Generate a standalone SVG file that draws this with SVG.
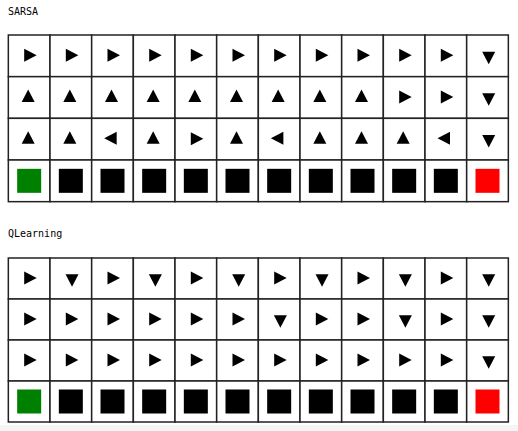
<svg xmlns="http://www.w3.org/2000/svg" xmlns:xlink="http://www.w3.org/1999/xlink" width="518" height="431" viewBox="0 0 518 431">
<style>
.c{fill:#fff;stroke:#222;stroke-width:1.5}
.t{font-family:"DejaVu Sans Mono","Liberation Mono",monospace;font-size:10px;fill:#000}
.a{fill:#000}
</style>
<defs>
<path id="R" class="a" d="M-5,-7 L7.5,-0.5 L-5,6 Z"/>
<path id="U" class="a" d="M-1,-8 L5.5,4.5 L-7.5,4.5 Z"/>
<path id="L" class="a" d="M-8.3,-1 L4.2,-7.5 L4.2,5.5 Z"/>
<path id="D" class="a" d="M-5.3,-4.2 L7.7,-4.2 L1.2,8.3 Z"/>
<rect id="K" x="-12" y="-12" width="24" height="24" fill="#000"/>
<rect id="G" x="-12" y="-12" width="24" height="24" fill="#008000"/>
<rect id="X" x="-12" y="-12" width="24" height="24" fill="#ff0000"/>
</defs>
<rect x="0" y="0" width="518" height="431" fill="#fff"/>
<rect x="0" y="425" width="518" height="6" fill="#f5f5f5"/>
<text class="t" x="8" y="15">SARSA</text>
<text class="t" x="8" y="237">QLearning</text>
<g id="sarsa">
<g id="s-r0"><rect class="c" x="8.33" y="35" width="41.67" height="41.67"/><rect class="c" x="50" y="35" width="41.67" height="41.67"/><rect class="c" x="91.67" y="35" width="41.67" height="41.67"/><rect class="c" x="133.33" y="35" width="41.67" height="41.67"/><rect class="c" x="175" y="35" width="41.67" height="41.67"/><rect class="c" x="216.67" y="35" width="41.67" height="41.67"/><rect class="c" x="258.33" y="35" width="41.67" height="41.67"/><rect class="c" x="300" y="35" width="41.67" height="41.67"/><rect class="c" x="341.67" y="35" width="41.67" height="41.67"/><rect class="c" x="383.33" y="35" width="41.67" height="41.67"/><rect class="c" x="425" y="35" width="41.67" height="41.67"/><rect class="c" x="466.67" y="35" width="41.67" height="41.67"/>
<use href="#R" x="29.17" y="55.83"/><use href="#R" x="70.83" y="55.83"/><use href="#R" x="112.5" y="55.83"/><use href="#R" x="154.17" y="55.83"/><use href="#R" x="195.83" y="55.83"/><use href="#R" x="237.5" y="55.83"/><use href="#R" x="279.17" y="55.83"/><use href="#R" x="320.83" y="55.83"/><use href="#R" x="362.5" y="55.83"/><use href="#R" x="404.17" y="55.83"/><use href="#R" x="445.83" y="55.83"/><use href="#D" x="487.5" y="55.83"/></g>
<g id="s-r1"><rect class="c" x="8.33" y="76.67" width="41.67" height="41.67"/><rect class="c" x="50" y="76.67" width="41.67" height="41.67"/><rect class="c" x="91.67" y="76.67" width="41.67" height="41.67"/><rect class="c" x="133.33" y="76.67" width="41.67" height="41.67"/><rect class="c" x="175" y="76.67" width="41.67" height="41.67"/><rect class="c" x="216.67" y="76.67" width="41.67" height="41.67"/><rect class="c" x="258.33" y="76.67" width="41.67" height="41.67"/><rect class="c" x="300" y="76.67" width="41.67" height="41.67"/><rect class="c" x="341.67" y="76.67" width="41.67" height="41.67"/><rect class="c" x="383.33" y="76.67" width="41.67" height="41.67"/><rect class="c" x="425" y="76.67" width="41.67" height="41.67"/><rect class="c" x="466.67" y="76.67" width="41.67" height="41.67"/>
<use href="#U" x="29.17" y="97.5"/><use href="#U" x="70.83" y="97.5"/><use href="#U" x="112.5" y="97.5"/><use href="#U" x="154.17" y="97.5"/><use href="#U" x="195.83" y="97.5"/><use href="#U" x="237.5" y="97.5"/><use href="#U" x="279.17" y="97.5"/><use href="#U" x="320.83" y="97.5"/><use href="#U" x="362.5" y="97.5"/><use href="#R" x="404.17" y="97.5"/><use href="#R" x="445.83" y="97.5"/><use href="#D" x="487.5" y="97.5"/></g>
<g id="s-r2"><rect class="c" x="8.33" y="118.33" width="41.67" height="41.67"/><rect class="c" x="50" y="118.33" width="41.67" height="41.67"/><rect class="c" x="91.67" y="118.33" width="41.67" height="41.67"/><rect class="c" x="133.33" y="118.33" width="41.67" height="41.67"/><rect class="c" x="175" y="118.33" width="41.67" height="41.67"/><rect class="c" x="216.67" y="118.33" width="41.67" height="41.67"/><rect class="c" x="258.33" y="118.33" width="41.67" height="41.67"/><rect class="c" x="300" y="118.33" width="41.67" height="41.67"/><rect class="c" x="341.67" y="118.33" width="41.67" height="41.67"/><rect class="c" x="383.33" y="118.33" width="41.67" height="41.67"/><rect class="c" x="425" y="118.33" width="41.67" height="41.67"/><rect class="c" x="466.67" y="118.33" width="41.67" height="41.67"/>
<use href="#U" x="29.17" y="139.17"/><use href="#U" x="70.83" y="139.17"/><use href="#L" x="112.5" y="139.17"/><use href="#U" x="154.17" y="139.17"/><use href="#R" x="195.83" y="139.17"/><use href="#U" x="237.5" y="139.17"/><use href="#L" x="279.17" y="139.17"/><use href="#U" x="320.83" y="139.17"/><use href="#U" x="362.5" y="139.17"/><use href="#U" x="404.17" y="139.17"/><use href="#L" x="445.83" y="139.17"/><use href="#D" x="487.5" y="139.17"/></g>
<g id="s-r3"><rect class="c" x="8.33" y="160" width="41.67" height="41.67"/><rect class="c" x="50" y="160" width="41.67" height="41.67"/><rect class="c" x="91.67" y="160" width="41.67" height="41.67"/><rect class="c" x="133.33" y="160" width="41.67" height="41.67"/><rect class="c" x="175" y="160" width="41.67" height="41.67"/><rect class="c" x="216.67" y="160" width="41.67" height="41.67"/><rect class="c" x="258.33" y="160" width="41.67" height="41.67"/><rect class="c" x="300" y="160" width="41.67" height="41.67"/><rect class="c" x="341.67" y="160" width="41.67" height="41.67"/><rect class="c" x="383.33" y="160" width="41.67" height="41.67"/><rect class="c" x="425" y="160" width="41.67" height="41.67"/><rect class="c" x="466.67" y="160" width="41.67" height="41.67"/>
<use href="#G" x="29.17" y="180.83"/><use href="#K" x="70.83" y="180.83"/><use href="#K" x="112.5" y="180.83"/><use href="#K" x="154.17" y="180.83"/><use href="#K" x="195.83" y="180.83"/><use href="#K" x="237.5" y="180.83"/><use href="#K" x="279.17" y="180.83"/><use href="#K" x="320.83" y="180.83"/><use href="#K" x="362.5" y="180.83"/><use href="#K" x="404.17" y="180.83"/><use href="#K" x="445.83" y="180.83"/><use href="#X" x="487.5" y="180.83"/></g>
</g>
<g id="qlearning">
<g id="q-r0"><rect class="c" x="8.33" y="258" width="41.67" height="41"/><rect class="c" x="50" y="258" width="41.67" height="41"/><rect class="c" x="91.67" y="258" width="41.67" height="41"/><rect class="c" x="133.33" y="258" width="41.67" height="41"/><rect class="c" x="175" y="258" width="41.67" height="41"/><rect class="c" x="216.67" y="258" width="41.67" height="41"/><rect class="c" x="258.33" y="258" width="41.67" height="41"/><rect class="c" x="300" y="258" width="41.67" height="41"/><rect class="c" x="341.67" y="258" width="41.67" height="41"/><rect class="c" x="383.33" y="258" width="41.67" height="41"/><rect class="c" x="425" y="258" width="41.67" height="41"/><rect class="c" x="466.67" y="258" width="41.67" height="41"/>
<use href="#R" x="29.17" y="278.5"/><use href="#D" x="70.83" y="278.5"/><use href="#R" x="112.5" y="278.5"/><use href="#D" x="154.17" y="278.5"/><use href="#R" x="195.83" y="278.5"/><use href="#D" x="237.5" y="278.5"/><use href="#R" x="279.17" y="278.5"/><use href="#D" x="320.83" y="278.5"/><use href="#R" x="362.5" y="278.5"/><use href="#D" x="404.17" y="278.5"/><use href="#R" x="445.83" y="278.5"/><use href="#D" x="487.5" y="278.5"/></g>
<g id="q-r1"><rect class="c" x="8.33" y="299" width="41.67" height="41"/><rect class="c" x="50" y="299" width="41.67" height="41"/><rect class="c" x="91.67" y="299" width="41.67" height="41"/><rect class="c" x="133.33" y="299" width="41.67" height="41"/><rect class="c" x="175" y="299" width="41.67" height="41"/><rect class="c" x="216.67" y="299" width="41.67" height="41"/><rect class="c" x="258.33" y="299" width="41.67" height="41"/><rect class="c" x="300" y="299" width="41.67" height="41"/><rect class="c" x="341.67" y="299" width="41.67" height="41"/><rect class="c" x="383.33" y="299" width="41.67" height="41"/><rect class="c" x="425" y="299" width="41.67" height="41"/><rect class="c" x="466.67" y="299" width="41.67" height="41"/>
<use href="#R" x="29.17" y="319.5"/><use href="#R" x="70.83" y="319.5"/><use href="#R" x="112.5" y="319.5"/><use href="#R" x="154.17" y="319.5"/><use href="#R" x="195.83" y="319.5"/><use href="#R" x="237.5" y="319.5"/><use href="#D" x="279.17" y="319.5"/><use href="#R" x="320.83" y="319.5"/><use href="#R" x="362.5" y="319.5"/><use href="#D" x="404.17" y="319.5"/><use href="#R" x="445.83" y="319.5"/><use href="#D" x="487.5" y="319.5"/></g>
<g id="q-r2"><rect class="c" x="8.33" y="340" width="41.67" height="41"/><rect class="c" x="50" y="340" width="41.67" height="41"/><rect class="c" x="91.67" y="340" width="41.67" height="41"/><rect class="c" x="133.33" y="340" width="41.67" height="41"/><rect class="c" x="175" y="340" width="41.67" height="41"/><rect class="c" x="216.67" y="340" width="41.67" height="41"/><rect class="c" x="258.33" y="340" width="41.67" height="41"/><rect class="c" x="300" y="340" width="41.67" height="41"/><rect class="c" x="341.67" y="340" width="41.67" height="41"/><rect class="c" x="383.33" y="340" width="41.67" height="41"/><rect class="c" x="425" y="340" width="41.67" height="41"/><rect class="c" x="466.67" y="340" width="41.67" height="41"/>
<use href="#R" x="29.17" y="360.5"/><use href="#R" x="70.83" y="360.5"/><use href="#R" x="112.5" y="360.5"/><use href="#R" x="154.17" y="360.5"/><use href="#R" x="195.83" y="360.5"/><use href="#R" x="237.5" y="360.5"/><use href="#R" x="279.17" y="360.5"/><use href="#R" x="320.83" y="360.5"/><use href="#R" x="362.5" y="360.5"/><use href="#R" x="404.17" y="360.5"/><use href="#R" x="445.83" y="360.5"/><use href="#D" x="487.5" y="360.5"/></g>
<g id="q-r3"><rect class="c" x="8.33" y="381" width="41.67" height="41"/><rect class="c" x="50" y="381" width="41.67" height="41"/><rect class="c" x="91.67" y="381" width="41.67" height="41"/><rect class="c" x="133.33" y="381" width="41.67" height="41"/><rect class="c" x="175" y="381" width="41.67" height="41"/><rect class="c" x="216.67" y="381" width="41.67" height="41"/><rect class="c" x="258.33" y="381" width="41.67" height="41"/><rect class="c" x="300" y="381" width="41.67" height="41"/><rect class="c" x="341.67" y="381" width="41.67" height="41"/><rect class="c" x="383.33" y="381" width="41.67" height="41"/><rect class="c" x="425" y="381" width="41.67" height="41"/><rect class="c" x="466.67" y="381" width="41.67" height="41"/>
<use href="#G" x="29.17" y="401.5"/><use href="#K" x="70.83" y="401.5"/><use href="#K" x="112.5" y="401.5"/><use href="#K" x="154.17" y="401.5"/><use href="#K" x="195.83" y="401.5"/><use href="#K" x="237.5" y="401.5"/><use href="#K" x="279.17" y="401.5"/><use href="#K" x="320.83" y="401.5"/><use href="#K" x="362.5" y="401.5"/><use href="#K" x="404.17" y="401.5"/><use href="#K" x="445.83" y="401.5"/><use href="#X" x="487.5" y="401.5"/></g>
</g>
</svg>
